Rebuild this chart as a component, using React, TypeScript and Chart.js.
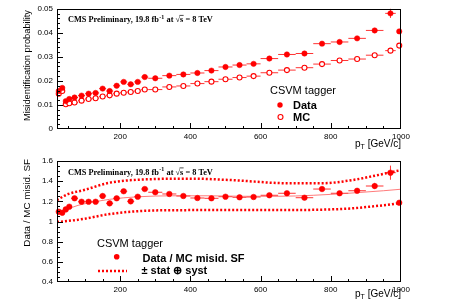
import React, { useEffect, useRef } from "react";
import { Chart, registerables } from "chart.js";

Chart.register(...registerables);

// ---------- data ----------
const ptBins = [25, 35, 45, 55, 70, 90, 110, 130, 150, 170, 190, 210, 230, 250, 270, 300, 340, 380, 420, 460, 500, 540, 580, 625, 675, 725, 775, 825, 875, 925, 970, 995];
const ptHalfWidth = [5, 5, 5, 5, 10, 10, 10, 10, 10, 10, 10, 10, 10, 10, 10, 20, 20, 20, 20, 20, 20, 20, 20, 25, 25, 25, 25, 25, 25, 25, 15, 5];

const dataMisid = [0.0158, 0.0171, 0.0116, 0.0125, 0.0131, 0.0139, 0.0147, 0.0150, 0.0168, 0.0158, 0.0180, 0.0196, 0.0186, 0.0196, 0.0216, 0.0211, 0.0222, 0.0227, 0.0233, 0.0243, 0.0258, 0.0266, 0.0271, 0.0293, 0.0310, 0.0314, 0.0355, 0.0362, 0.0377, 0.0410, 0.0481, 0.0406];
const dataMisidErr = [0.0004, 0.0004, 0.0003, 0.0003, 0.0002, 0.0002, 0.0002, 0.0002, 0.0003, 0.0003, 0.0003, 0.0003, 0.0003, 0.0003, 0.0003, 0.0003, 0.0003, 0.0003, 0.0003, 0.0003, 0.0003, 0.0003, 0.0004, 0.0004, 0.0004, 0.0005, 0.0005, 0.0006, 0.0007, 0.0008, 0.0019, 0.0006];
const mcMisid = [0.0147, 0.0158, 0.0103, 0.0107, 0.0110, 0.0118, 0.0125, 0.0128, 0.0135, 0.0140, 0.0147, 0.0151, 0.0154, 0.0158, 0.0164, 0.0164, 0.0175, 0.0179, 0.0189, 0.0197, 0.0207, 0.0214, 0.0220, 0.0234, 0.0245, 0.0255, 0.0270, 0.0285, 0.0291, 0.0307, 0.0326, 0.0347];
const mcMisidErr = [0.0002, 0.0002, 0.0001, 0.0001, 0.0001, 0.0001, 0.0001, 0.0001, 0.0001, 0.0001, 0.0001, 0.0001, 0.0001, 0.0001, 0.0001, 0.0001, 0.0001, 0.0001, 0.0001, 0.0001, 0.0001, 0.0001, 0.0002, 0.0002, 0.0002, 0.0002, 0.0002, 0.0002, 0.0003, 0.0003, 0.0004, 0.0003];

const sfValues = [1.097, 1.087, 1.12, 1.147, 1.23, 1.196, 1.196, 1.196, 1.253, 1.18, 1.23, 1.30, 1.20, 1.246, 1.322, 1.29, 1.273, 1.253, 1.233, 1.23, 1.246, 1.24, 1.243, 1.26, 1.28, 1.236, 1.322, 1.28, 1.305, 1.352, 1.484, 1.186];
const sfErr = [0.025, 0.025, 0.02, 0.02, 0.02, 0.02, 0.02, 0.02, 0.025, 0.025, 0.02, 0.02, 0.02, 0.02, 0.02, 0.02, 0.015, 0.015, 0.015, 0.015, 0.015, 0.015, 0.015, 0.02, 0.02, 0.02, 0.025, 0.02, 0.025, 0.03, 0.07, 0.02];

const fitPt = [20, 50, 80, 120, 170, 250, 350, 450, 550, 650, 750, 850, 950, 1000];
const fitValues = [1.06, 1.12, 1.16, 1.19, 1.22, 1.245, 1.255, 1.255, 1.25, 1.25, 1.26, 1.28, 1.305, 1.32];

const bandUpperPt = [20, 50, 95, 170, 275, 400, 520, 680, 780, 860, 920, 960, 1000];
const bandUpperValues = [1.213, 1.27, 1.31, 1.385, 1.418, 1.425, 1.41, 1.379, 1.38, 1.41, 1.45, 1.48, 1.51];
const bandLowerPt = [20, 50, 95, 170, 275, 400, 550, 700, 800, 860, 920, 960, 1000];
const bandLowerValues = [0.995, 1.005, 1.025, 1.074, 1.107, 1.113, 1.114, 1.114, 1.12, 1.13, 1.15, 1.165, 1.185];

const xTickValues = [200, 400, 600, 800, 1000];
const xTickLabels = ["200", "400", "600", "800", "1000"];
const topYTickValues = [0, 0.01, 0.02, 0.03, 0.04, 0.05];
const topYTickLabels = ["0", "0.01", "0.02", "0.03", "0.04", "0.05"];
const sfYTickValues = [0.4, 0.6, 0.8, 1, 1.2, 1.4, 1.6];
const sfYTickLabels = ["0.4", "0.6", "0.8", "1", "1.2", "1.4", "1.6"];

// ---------- styles ----------
const RED = "#ff0000";
const SANS = '"Liberation Sans", Arial, sans-serif';
const SERIF = '"Liberation Serif", "Times New Roman", serif';

type EB = { x: number[]; y: number[]; xe: number[]; ye: number[] };

function drawCMS(ctx: CanvasRenderingContext2D, x0: number, y: number) {
  ctx.fillStyle = "#000";
  ctx.textAlign = "left";
  ctx.textBaseline = "alphabetic";
  let x = x0;
  const big = `bold 8.3px ${SERIF}`;
  const small = `bold 6px ${SERIF}`;
  ctx.font = big;
  const s1 = "CMS Preliminary, 19.8 fb";
  ctx.fillText(s1, x, y);
  x += ctx.measureText(s1).width;
  ctx.font = small;
  ctx.fillText("-1", x + 0.3, y - 3.5);
  x += ctx.measureText("-1").width + 0.6;
  ctx.font = big;
  const s2 = " at \u221A";
  ctx.fillText(s2, x, y);
  x += ctx.measureText(s2).width;
  const ws = ctx.measureText("s").width;
  ctx.fillText("s", x, y);
  ctx.strokeStyle = "#000";
  ctx.lineWidth = 0.7;
  ctx.beginPath();
  ctx.moveTo(x - 0.5, y - 6.6);
  ctx.lineTo(x + ws + 0.3, y - 6.6);
  ctx.stroke();
  x += ws;
  ctx.fillText(" = 8 TeV", x, y);
}

function drawPtTitle(ctx: CanvasRenderingContext2D, xr: number, y: number) {
  const f = `10px ${SANS}`;
  const fs = `7px ${SANS}`;
  ctx.font = f;
  const wp = ctx.measureText("p").width;
  const wr = ctx.measureText(" [GeV/c]").width;
  ctx.font = fs;
  const wt = ctx.measureText("T").width;
  let x = xr - (wp + wt + wr);
  ctx.fillStyle = "#000";
  ctx.textAlign = "left";
  ctx.textBaseline = "alphabetic";
  ctx.font = f;
  ctx.fillText("p", x, y);
  x += wp;
  ctx.font = fs;
  ctx.fillText("T", x, y + 2.2);
  x += wt;
  ctx.font = f;
  ctx.fillText(" [GeV/c]", x, y);
}

function drawYTitle(ctx: CanvasRenderingContext2D, text: string, cx: number, top: number, size: number) {
  ctx.save();
  ctx.translate(cx, top);
  ctx.rotate(-Math.PI / 2);
  ctx.font = `${size}px ${SANS}`;
  ctx.fillStyle = "#000";
  ctx.textAlign = "right";
  ctx.textBaseline = "middle";
  ctx.fillText(text, 0, 0);
  ctx.restore();
}

function marker(ctx: CanvasRenderingContext2D, x: number, y: number, r: number, filled: boolean) {
  ctx.beginPath();
  ctx.arc(x, y, r, 0, Math.PI * 2);
  if (filled) {
    ctx.fillStyle = RED;
    ctx.fill();
  } else {
    ctx.fillStyle = "#fff";
    ctx.fill();
    ctx.strokeStyle = RED;
    ctx.lineWidth = 1.1;
    ctx.stroke();
  }
}

function makePlugin(cfg: {
  bars: EB[];
  yMin: number;
  yMax: number;
  yMinorStep: number;
  yMajor: number[];
  overlay: (ctx: CanvasRenderingContext2D) => void;
}) {
  return {
    id: "rootStyle",
    beforeDatasetsDraw(chart: any) {
      const ctx: CanvasRenderingContext2D = chart.ctx;
      const xs = chart.scales.x;
      const ys = chart.scales.y;
      ctx.save();
      ctx.strokeStyle = "rgba(255,30,30,0.9)";
      ctx.lineWidth = 1;
      for (const b of cfg.bars) {
        for (let i = 0; i < b.x.length; i++) {
          const px = xs.getPixelForValue(b.x[i]);
          const py = ys.getPixelForValue(b.y[i]);
          const x1 = xs.getPixelForValue(b.x[i] - b.xe[i]);
          const x2 = xs.getPixelForValue(b.x[i] + b.xe[i]);
          const y1 = ys.getPixelForValue(b.y[i] - b.ye[i]);
          const y2 = ys.getPixelForValue(b.y[i] + b.ye[i]);
          ctx.beginPath();
          ctx.moveTo(x1, py);
          ctx.lineTo(x2, py);
          ctx.moveTo(px, y1);
          ctx.lineTo(px, y2);
          ctx.stroke();
        }
      }
      ctx.restore();
    },
    afterDraw(chart: any) {
      const ctx: CanvasRenderingContext2D = chart.ctx;
      const a = chart.chartArea;
      const xs = chart.scales.x;
      const ys = chart.scales.y;
      ctx.save();
      ctx.strokeStyle = "#000";
      ctx.lineWidth = 1;
      ctx.strokeRect(Math.round(a.left) + 0.5, Math.round(a.top) + 0.5, Math.round(a.right - a.left) - 1, Math.round(a.bottom - a.top) - 1);
      ctx.beginPath();
      for (let v = 50; v < 1000; v += 50) {
        const px = Math.round(xs.getPixelForValue(v)) + 0.5;
        const len = v % 200 === 0 ? 6 : 3;
        ctx.moveTo(px, a.bottom);
        ctx.lineTo(px, a.bottom - len);
      }
      const nMinor = Math.round((cfg.yMax - cfg.yMin) / cfg.yMinorStep);
      for (let k = 1; k < nMinor; k++) {
        const v = cfg.yMin + k * cfg.yMinorStep;
        const py = Math.round(ys.getPixelForValue(v)) + 0.5;
        const isMajor = cfg.yMajor.some((m) => Math.abs(m - v) < 1e-9);
        ctx.moveTo(a.left, py);
        ctx.lineTo(a.left + (isMajor ? 6 : 3), py);
      }
      ctx.stroke();
      cfg.overlay(ctx);
      ctx.restore();
    },
  };
}

function scaleX() {
  return {
    type: "linear",
    min: 20,
    max: 1000,
    afterBuildTicks: (s: any) => {
      s.ticks = xTickValues.map((v) => ({ value: v }));
    },
    afterFit: (s: any) => {
      s.height = 23;
    },
    grid: { display: false, drawTicks: false },
    border: { display: false },
    ticks: {
      font: { family: SANS, size: 8 },
      color: "#000",
      padding: 3,
      maxRotation: 0,
      autoSkip: false,
      callback: (_v: any, i: number) => xTickLabels[i],
    },
  };
}

function scaleY(min: number, max: number, vals: number[], labels: string[]) {
  return {
    type: "linear",
    min,
    max,
    afterBuildTicks: (s: any) => {
      s.ticks = vals.map((v) => ({ value: v }));
    },
    afterFit: (s: any) => {
      s.width = 57;
    },
    grid: { display: false, drawTicks: false },
    border: { display: false },
    ticks: {
      font: { family: SANS, size: 8 },
      color: "#000",
      padding: 4,
      autoSkip: false,
      callback: (_v: any, i: number) => labels[i],
    },
  };
}

const pts = (xs: number[], ys: number[]) => xs.map((x, i) => ({ x, y: ys[i] }));

export default function App() {
  const topRef = useRef<HTMLCanvasElement>(null);
  const botRef = useRef<HTMLCanvasElement>(null);

  useEffect(() => {
    const topPlugin = makePlugin({
      bars: [
        { x: ptBins, y: dataMisid, xe: ptHalfWidth, ye: dataMisidErr },
        { x: ptBins, y: mcMisid, xe: ptHalfWidth, ye: mcMisidErr },
      ],
      yMin: 0,
      yMax: 0.05,
      yMinorStep: 0.002,
      yMajor: topYTickValues,
      overlay: (ctx) => {
        drawCMS(ctx, 68, 22);
        ctx.fillStyle = "#000";
        ctx.textAlign = "left";
        ctx.textBaseline = "alphabetic";
        ctx.font = `11px ${SANS}`;
        ctx.fillText("CSVM tagger", 270, 93.5);
        ctx.font = `bold 11px ${SANS}`;
        ctx.fillText("Data", 293, 109);
        ctx.fillText("MC", 293, 121);
        marker(ctx, 280, 105, 2.7, true);
        marker(ctx, 280.5, 117, 2.5, false);
        drawYTitle(ctx, "Misidentification probability", 27.5, 10, 9.3);
        drawPtTitle(ctx, 401, 146.5);
      },
    });

    const top = new Chart(topRef.current as HTMLCanvasElement, {
      type: "scatter",
      data: {
        datasets: [
          {
            data: pts(ptBins, dataMisid),
            pointStyle: "circle",
            pointRadius: 2.7,
            backgroundColor: RED,
            borderColor: RED,
            borderWidth: 0.5,
            clip: 6,
          } as any,
          {
            data: pts(ptBins, mcMisid),
            pointStyle: "circle",
            pointRadius: 2.5,
            backgroundColor: "#fff",
            borderColor: RED,
            borderWidth: 1.1,
            clip: 6,
          } as any,
        ],
      },
      options: {
        responsive: false,
        animation: false,
        devicePixelRatio: 1,
        events: [],
        layout: { padding: { top: 8, right: 49, left: 0, bottom: 0 } },
        plugins: { legend: { display: false }, tooltip: { enabled: false } },
        scales: {
          x: scaleX() as any,
          y: scaleY(0, 0.05, topYTickValues, topYTickLabels) as any,
        },
      },
      plugins: [topPlugin as any],
    });

    const botPlugin = makePlugin({
      bars: [{ x: ptBins, y: sfValues, xe: ptHalfWidth, ye: sfErr }],
      yMin: 0.4,
      yMax: 1.6,
      yMinorStep: 0.05,
      yMajor: sfYTickValues,
      overlay: (ctx) => {
        drawCMS(ctx, 68, 22.5);
        ctx.fillStyle = "#000";
        ctx.textAlign = "left";
        ctx.textBaseline = "alphabetic";
        ctx.font = `11px ${SANS}`;
        ctx.fillText("CSVM tagger", 97, 94.5);
        ctx.font = `bold 11px ${SANS}`;
        ctx.fillText("Data / MC misid. SF", 142.5, 109.5);
        ctx.fillText("\u00B1 stat \u2295 syst", 141.5, 121.5);
        marker(ctx, 116.7, 104.7, 2.8, true);
        ctx.save();
        ctx.strokeStyle = RED;
        ctx.lineWidth = 2.5;
        ctx.setLineDash([2, 2]);
        ctx.beginPath();
        ctx.moveTo(98, 119);
        ctx.lineTo(127, 119);
        ctx.stroke();
        ctx.restore();
        drawYTitle(ctx, "Data / MC misid. SF", 27.5, 7, 9.8);
        drawPtTitle(ctx, 401, 145);
      },
    });

    const bot = new Chart(botRef.current as HTMLCanvasElement, {
      type: "scatter",
      data: {
        datasets: [
          {
            data: pts(ptBins, sfValues),
            pointStyle: "circle",
            pointRadius: 2.8,
            backgroundColor: RED,
            borderColor: RED,
            borderWidth: 0.5,
            clip: 6,
          } as any,
          {
            data: pts(fitPt, fitValues),
            showLine: true,
            pointRadius: 0,
            borderColor: "rgba(255,90,90,0.8)",
            borderWidth: 1,
            cubicInterpolationMode: "monotone",
          } as any,
          {
            data: pts(bandUpperPt, bandUpperValues),
            showLine: true,
            pointRadius: 0,
            borderColor: RED,
            borderWidth: 2.5,
            borderDash: [2, 2],
            borderCapStyle: "butt",
            cubicInterpolationMode: "monotone",
          } as any,
          {
            data: pts(bandLowerPt, bandLowerValues),
            showLine: true,
            pointRadius: 0,
            borderColor: RED,
            borderWidth: 2.5,
            borderDash: [2, 2],
            borderCapStyle: "butt",
            cubicInterpolationMode: "monotone",
          } as any,
        ],
      },
      options: {
        responsive: false,
        animation: false,
        devicePixelRatio: 1,
        events: [],
        layout: { padding: { top: 9, right: 49, left: 0, bottom: 0 } },
        plugins: { legend: { display: false }, tooltip: { enabled: false } },
        scales: {
          x: scaleX() as any,
          y: scaleY(0.4, 1.6, sfYTickValues, sfYTickLabels) as any,
        },
      },
      plugins: [botPlugin as any],
    });

    return () => {
      top.destroy();
      bot.destroy();
    };
  }, []);

  return (
    <div style={{ position: "absolute", left: 0, top: 0, width: 450, height: 305, background: "#fff" }}>
      <canvas ref={topRef} width={450} height={152} style={{ position: "absolute", left: 0, top: 0, width: 450, height: 152 }} />
      <canvas ref={botRef} width={450} height={153} style={{ position: "absolute", left: 0, top: 152, width: 450, height: 153 }} />
    </div>
  );
}
